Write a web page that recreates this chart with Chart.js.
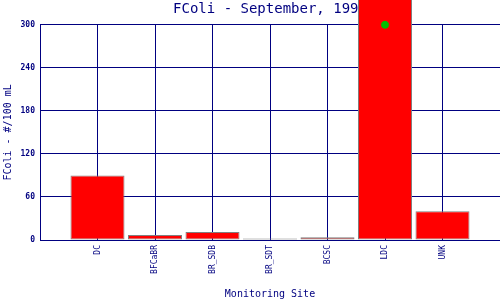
<!DOCTYPE html>
<html>
<head>
<meta charset="utf-8">
<script src="https://cdn.jsdelivr.net/npm/chart.js@4/dist/chart.umd.min.js"></script>
<style>
  html, body { margin: 0; padding: 0; background: #fff; }
  #wrap { width: 500px; height: 300px; }
</style>
</head>
<body>
<div id="wrap"><canvas id="chart"></canvas></div>
<script>
// monitoring sites along the x axis
const categories = ["DC", "BFCaBR", "BR_SDB", "BR_SDT", "BCSC", "LDC", "UNK"];
// FColi counts, #/100 mL (LDC runs off the top of the scale)
const fcoliValues = [90, 7, 11, 2, 4, 1600, 40];
// green marker drawn at the top of the scale for the off-scale site
const markerValues = [null, null, null, null, null, 300, null];
const yTicks = [0, 60, 120, 180, 240, 300];

const navy = "#000080";
const mono = "'DejaVu Sans Mono', 'Liberation Mono', monospace";

// empty slots at each end so the sites sit on the grid lines
const labels = ["", ...categories, ""];
const pad = (arr) => [null, ...arr, null];

const ctx = document.getElementById("chart").getContext("2d");

new Chart(ctx, {
  type: "bar",
  data: {
    labels: labels,
    datasets: [
      {
        type: "line",
        label: "marker",
        data: pad(markerValues),
        showLine: false,
        pointRadius: 3.5,
        pointBorderWidth: 1,
        pointBackgroundColor: "#00c000",
        pointBorderColor: "#00c000",
        clip: false,
        order: 0,
      },
      {
        label: "FColi",
        data: pad(fcoliValues),
        backgroundColor: "#ff0000",
        borderColor: "#808080",
        borderWidth: 1,
        borderSkipped: false,
        barPercentage: 0.94,
        categoryPercentage: 1,
        clip: false,
        order: 1,
      },
    ],
  },
  options: {
    responsive: true,
    maintainAspectRatio: false,
    animation: false,
    layout: { padding: 0, autoPadding: false },
    scales: {
      x: {
        offset: false,
        grid: { color: navy, lineWidth: 1, drawTicks: false, offset: false },
        border: { color: navy, width: 1 },
        ticks: {
          color: navy,
          font: { family: mono, size: 8 },
          padding: 5,
          minRotation: 90,
          maxRotation: 90,
          autoSkip: false,
        },
        title: {
          display: true,
          text: "Monitoring Site",
          color: navy,
          font: { family: mono, size: 10 },
          padding: 0,
        },
        afterFit: (scale) => {
          scale.height = 60;
          scale.paddingLeft = 0;
          scale.paddingRight = 0;
        },
      },
      y: {
        min: 0,
        max: 300,
        grid: { color: navy, lineWidth: 1, drawTicks: false },
        border: { color: navy, width: 1 },
        afterBuildTicks: (scale) => { scale.ticks = yTicks.map((v) => ({ value: v })); },
        ticks: {
          color: navy,
          font: { family: mono, size: 8, weight: "bold" },
          padding: 5,
        },
        title: {
          display: true,
          text: "FColi - #/100 mL",
          color: navy,
          font: { family: mono, size: 10 },
          padding: { top: 2, bottom: 0 },
        },
        afterFit: (scale) => { scale.width = 40; },
      },
    },
    plugins: {
      legend: { display: false },
      tooltip: { enabled: false },
      title: {
        display: true,
        text: "FColi - September, 1998",
        color: navy,
        fullSize: false,
        font: { family: mono, size: 14, weight: "normal" },
        padding: { top: 1, bottom: 7 },
      },
    },
  },
});
</script>
</body>
</html>
